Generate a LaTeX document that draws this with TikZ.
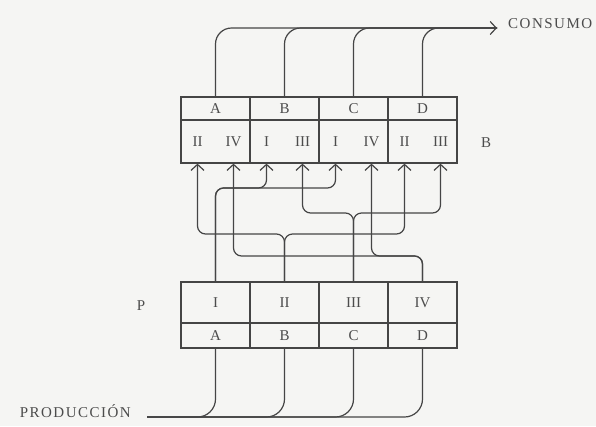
\documentclass[tikz,border=0pt]{standalone}
\usepackage{fontspec}
\usepackage{tikz}
\usetikzlibrary{arrows.meta}
\newfontfamily\lab{Liberation Serif}
\newfontfamily\spaced{Liberation Serif}[LetterSpace=10]
\definecolor{ink}{HTML}{454545}
\definecolor{txt}{HTML}{4C4C4C}
\definecolor{paper}{HTML}{F5F5F3}
\tikzset{
  cell/.style={draw=ink, line width=1.2pt, minimum width=69pt, inner sep=0pt},
  lbl/.style={text=txt, inner sep=0pt, font=\lab\fontsize{15pt}{15pt}\selectfont},
  word/.style={lbl, font=\spaced\fontsize{15pt}{15pt}\selectfont},
  wire/.style={draw=ink, line width=1.2pt, rounded corners=8pt},
  feed/.style={wire, -{Straight Barb[length=6pt,width=13pt]}},
}

\begin{document}
\begin{tikzpicture}[x=1pt, y=-1pt]
    \fill [paper] (0, 0) rectangle (596, 426);
    \useasboundingbox (0, 0) rectangle (596, 426);

    % box B
    \foreach \n/\x in {A/215.5, B/284.5, C/353.5, D/422.5} {
      \node (b\n) [cell, lbl, minimum height=23pt] at (\x, 108.5) {\n};
      \node (b\n2) [cell, minimum height=43pt] at (\x, 141.5) {};
    }
    \foreach \n/\l/\r in {A/II/IV, B/I/III, C/I/IV, D/II/III} {
      \node (b\n-l) [lbl, xshift=-18pt] at (b\n2) {\l};
      \node (b\n-r) [lbl, xshift=18pt] at (b\n2) {\r};
    }

    % box P
    \foreach \n/\m/\x in {I/A/215.5, II/B/284.5, III/C/353.5, IV/D/422.5} {
      \node (p\n) [cell, lbl, minimum height=41pt] at (\x, 302.5) {\n};
      \node (p\m) [cell, lbl, minimum height=25pt] at (\x, 335.5) {\m};
    }

    \node (sideP) [lbl] at (141, 306) {P};
    \node (sideB) [lbl] at (486, 143) {B};
    \node (consumo) [word, anchor=base west] at (508, 28) {CONSUMO};
    \node (produccion) [word, anchor=base east] at (131, 417) {PRODUCCIÓN};

    \foreach \n in {B, C, D}
      \draw [wire, rounded corners=16pt] (b\n.north) |- ([xshift=-11pt]consumo.base west);
    \draw [feed, rounded corners=16pt] (bA.north) |- ([xshift=-11pt]consumo.base west);

    \foreach \m in {A, B, C, D}
      \draw [wire, rounded corners=18pt] (p\m.south) |- ([xshift=16pt]produccion.base east);

    % levels of the crossings
    \coordinate (yI) at (0, 188);
    \coordinate (yIII) at (0, 213);
    \coordinate (yII) at (0, 234);
    \coordinate (yIV) at (0, 256);
    \foreach \s/\h/\t in {I/yI/bB-l, I/yI/bC-l, II/yII/bA-l, II/yII/bD-l,
                          III/yIII/bB-r, III/yIII/bD-r, IV/yIV/bA-r, IV/yIV/bC-r}
      \draw [feed] (p\s.north) |- (\t |- \h) -- (\t |- bA2.south);
  \end{tikzpicture}
\end{document}
